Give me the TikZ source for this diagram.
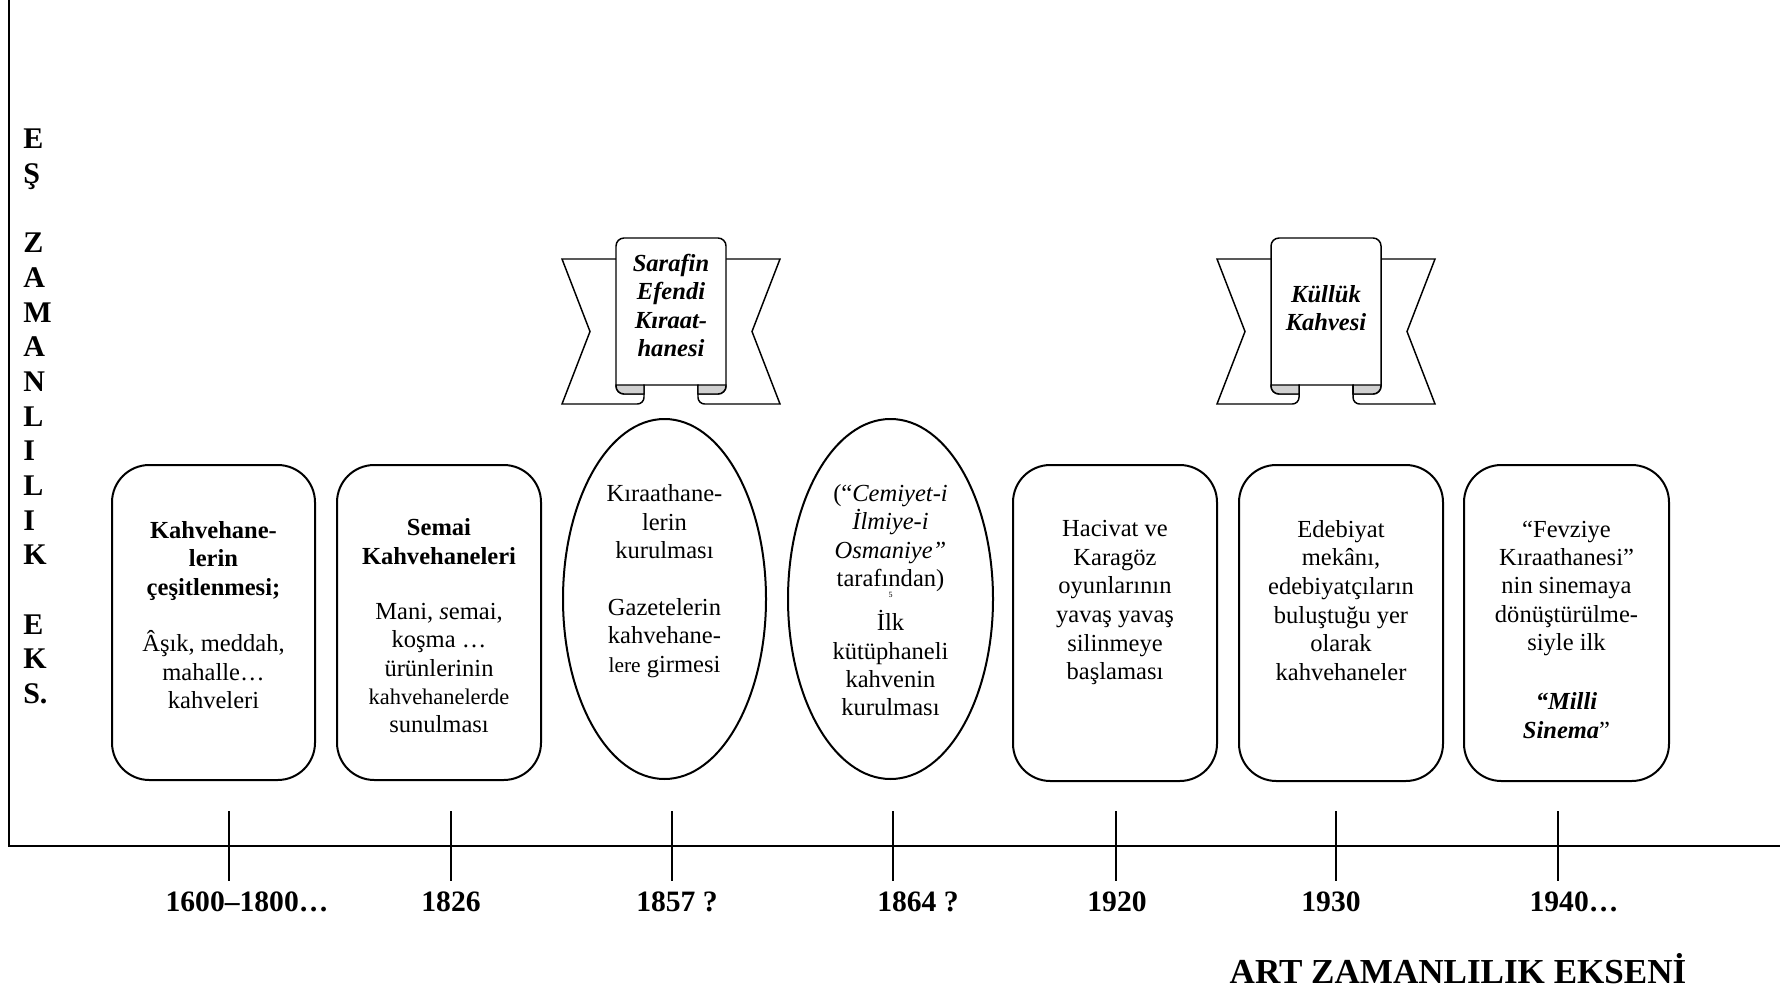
\documentclass[tikz,border=0pt]{standalone}
\usepackage{fontspec}
\setmainfont{Liberation Serif}
\usepackage{tikz}
\definecolor{curlgray}{RGB}{208,208,208}

\begin{document}
\begin{tikzpicture}[x=0.75pt,y=0.75pt,yscale=-1,xscale=1,
  card/.style={line width=1.5pt, rounded corners=28pt},
  oval/.style={line width=1.5pt},
  ribbon/.style={line width=1.1pt},
  tick/.style={line width=1pt},
  cardtext/.style={anchor=north, inner sep=0.75pt, align=center, font=\fontsize{18.4}{21.3}\selectfont},
  bannertext/.style={anchor=north, inner sep=0.75pt, align=center, font=\bfseries\itshape\fontsize{18.4}{21.3}\selectfont},
  yearlabel/.style={anchor=base, inner sep=0.75pt, font=\bfseries\fontsize{22.2}{26}\selectfont}]
\useasboundingbox (0,0) rectangle (1787,991);

%Straight Lines (axes)
\draw [line width=1.4pt]   (9,0) -- (9,846) -- (1780,846) ;
%Straight Lines (ticks)
\draw [tick]   (229,811) -- (229,881) ;
\draw [tick]   (451,811) -- (451,881) ;
\draw [tick]   (672,811) -- (672,881) ;
\draw [tick]   (893,811) -- (893,881) ;
\draw [tick]   (1116,811) -- (1116,881) ;
\draw [tick]   (1336,811) -- (1336,881) ;
\draw [tick]   (1558,811) -- (1558,881) ;

%Rounded Rect
\draw [card]   (112,465) rectangle (315,780) ;
%Rounded Rect
\draw [card]   (337,465) rectangle (541,780) ;
%Shape: Ellipse
\draw [oval]   (664.5,599) ellipse [x radius=101.5, y radius=180] ;
%Shape: Ellipse
\draw [oval]   (890.5,599) ellipse [x radius=102.5, y radius=180] ;
%Rounded Rect
\draw [card]   (1013,465) rectangle (1217,781) ;
%Rounded Rect
\draw [card]   (1239,465) rectangle (1443,781) ;
%Rounded Rect
\draw [card]   (1464,465) rectangle (1669,781) ;

%Shape: Up Ribbon (left)
\draw [ribbon]   (616,259) -- (562,259) -- (590,331.5) -- (562,404) [rounded corners=5pt] -- (644,404) -- (644,385) ;
\draw [ribbon]   (726,259) -- (780,259) -- (752,331.5) -- (780,404) [rounded corners=5pt] -- (698,404) -- (698,385) ;
\draw [ribbon, fill=white, rounded corners=6pt]   (616,320) -- (616,238) -- (726,238) -- (726,394) [sharp corners] -- (698,394) -- (698,385) -- (644,385) -- (644,394) [rounded corners=6pt] -- (616,394) -- cycle ;
\draw [ribbon, fill=curlgray]   (616,385) [rounded corners=6pt] -- (616,394) [sharp corners] -- (644,394) -- (644,385) -- cycle ;
\draw [ribbon, fill=curlgray]   (726,385) [rounded corners=6pt] -- (726,394) [sharp corners] -- (698,394) -- (698,385) -- cycle ;

%Shape: Up Ribbon (right)
\draw [ribbon]   (1271,259) -- (1217,259) -- (1245,331.5) -- (1217,404) [rounded corners=5pt] -- (1299,404) -- (1299,385) ;
\draw [ribbon]   (1381,259) -- (1435,259) -- (1407,331.5) -- (1435,404) [rounded corners=5pt] -- (1353,404) -- (1353,385) ;
\draw [ribbon, fill=white, rounded corners=6pt]   (1271,320) -- (1271,238) -- (1381,238) -- (1381,394) [sharp corners] -- (1353,394) -- (1353,385) -- (1299,385) -- (1299,394) [rounded corners=6pt] -- (1271,394) -- cycle ;
\draw [ribbon, fill=curlgray]   (1271,385) [rounded corners=6pt] -- (1271,394) [sharp corners] -- (1299,394) -- (1299,385) -- cycle ;
\draw [ribbon, fill=curlgray]   (1381,385) [rounded corners=6pt] -- (1381,394) [sharp corners] -- (1353,394) -- (1353,385) -- cycle ;

% Text Node
\draw (22,128) node [anchor=north west][inner sep=0.75pt]  [align=left, font=\bfseries\fontsize{22.5}{26}\selectfont] (eszaman) {E\\Ş\\[26pt]Z\\A\\M\\A\\N\\L\\I\\L\\I\\K\\[26pt]E\\K\\S.};
% Text Node
\draw (671,253) node [bannertext] (sarafin) {Sarafin\\Efendi\\Kıraat-\\hanesi};
% Text Node
\draw (1326,284) node [bannertext] (kulluk) {Küllük\\Kahvesi};
% Text Node
\draw (213.5,520) node [cardtext] (t1600) {\textbf{Kahvehane-}\\\textbf{lerin}\\\textbf{çeşitlenmesi;}\\[21.3pt]Âşık, meddah,\\mahalle…\\kahveleri};
% Text Node
\draw (439,517.5) node [cardtext] (t1826) {\textbf{Semai}\\\textbf{Kahvehaneleri}\\[20pt]Mani, \textit{s}emai,\\koşma …\\ürünlerinin\\{\fontsize{16.8}{21.3}\selectfont kahvehanelerde}\\sunulması};
% Text Node
\draw (664.5,483.5) node [cardtext] (t1857) {Kıraathane-\\lerin\\kurulması\\[21.3pt]Gazetelerin\\kahvehane-\\{\fontsize{16}{21.3}\selectfont lere} girmesi};
% Text Node
\draw (890.5,483) node [cardtext] (t1864) {(“\textit{Cemiyet-i}\\\textit{İlmiye-i}\\\textit{Osmaniye”}\\tarafından)\\[-12.7pt]{\fontsize{6}{7}\selectfont 5}\\[3.2pt]İlk\\kütüphaneli\\kahvenin\\kurulması};
% Text Node
\draw (1115,519) node [cardtext, font=\fontsize{18.4}{21.5}\selectfont] (t1920) {Hacivat ve\\Karagöz\\oyunlarının\\yavaş yavaş\\silinmeye\\başlaması};
% Text Node
\draw (1341,519) node [cardtext, font=\fontsize{18.4}{21.5}\selectfont] (t1930) {Edebiyat\\mekânı,\\edebiyatçıların\\buluştuğu yer\\olarak\\kahvehaneler};
% Text Node
\draw (1566.5,519.5) node [cardtext] (t1940) {“Fevziye\\Kıraathanesi”\\nin sinemaya\\dönüştürülme-\\siyle ilk\\[23pt]\textbf{\textit{“Milli}}\\\textbf{\textit{Sinema}}”};

% Text Node
\draw (247,911) node [yearlabel] (y1600) {1600–1800…};
% Text Node
\draw (451,911) node [yearlabel] (y1826) {1826};
% Text Node
\draw (677,911) node [yearlabel] (y1857) {1857 ?};
% Text Node
\draw (918,911) node [yearlabel] (y1864) {1864 ?};
% Text Node
\draw (1117,911) node [yearlabel] (y1920) {1920};
% Text Node
\draw (1331,911) node [yearlabel] (y1930) {1930};
% Text Node
\draw (1574,911) node [yearlabel] (y1940) {1940…};
% Text Node
\draw (1458,983) node [anchor=base][inner sep=0pt]  [font=\bfseries\fontsize{26.3}{30}\selectfont] (artzaman) {ART ZAMANLILIK EKSENİ};

\end{tikzpicture}
\end{document}
